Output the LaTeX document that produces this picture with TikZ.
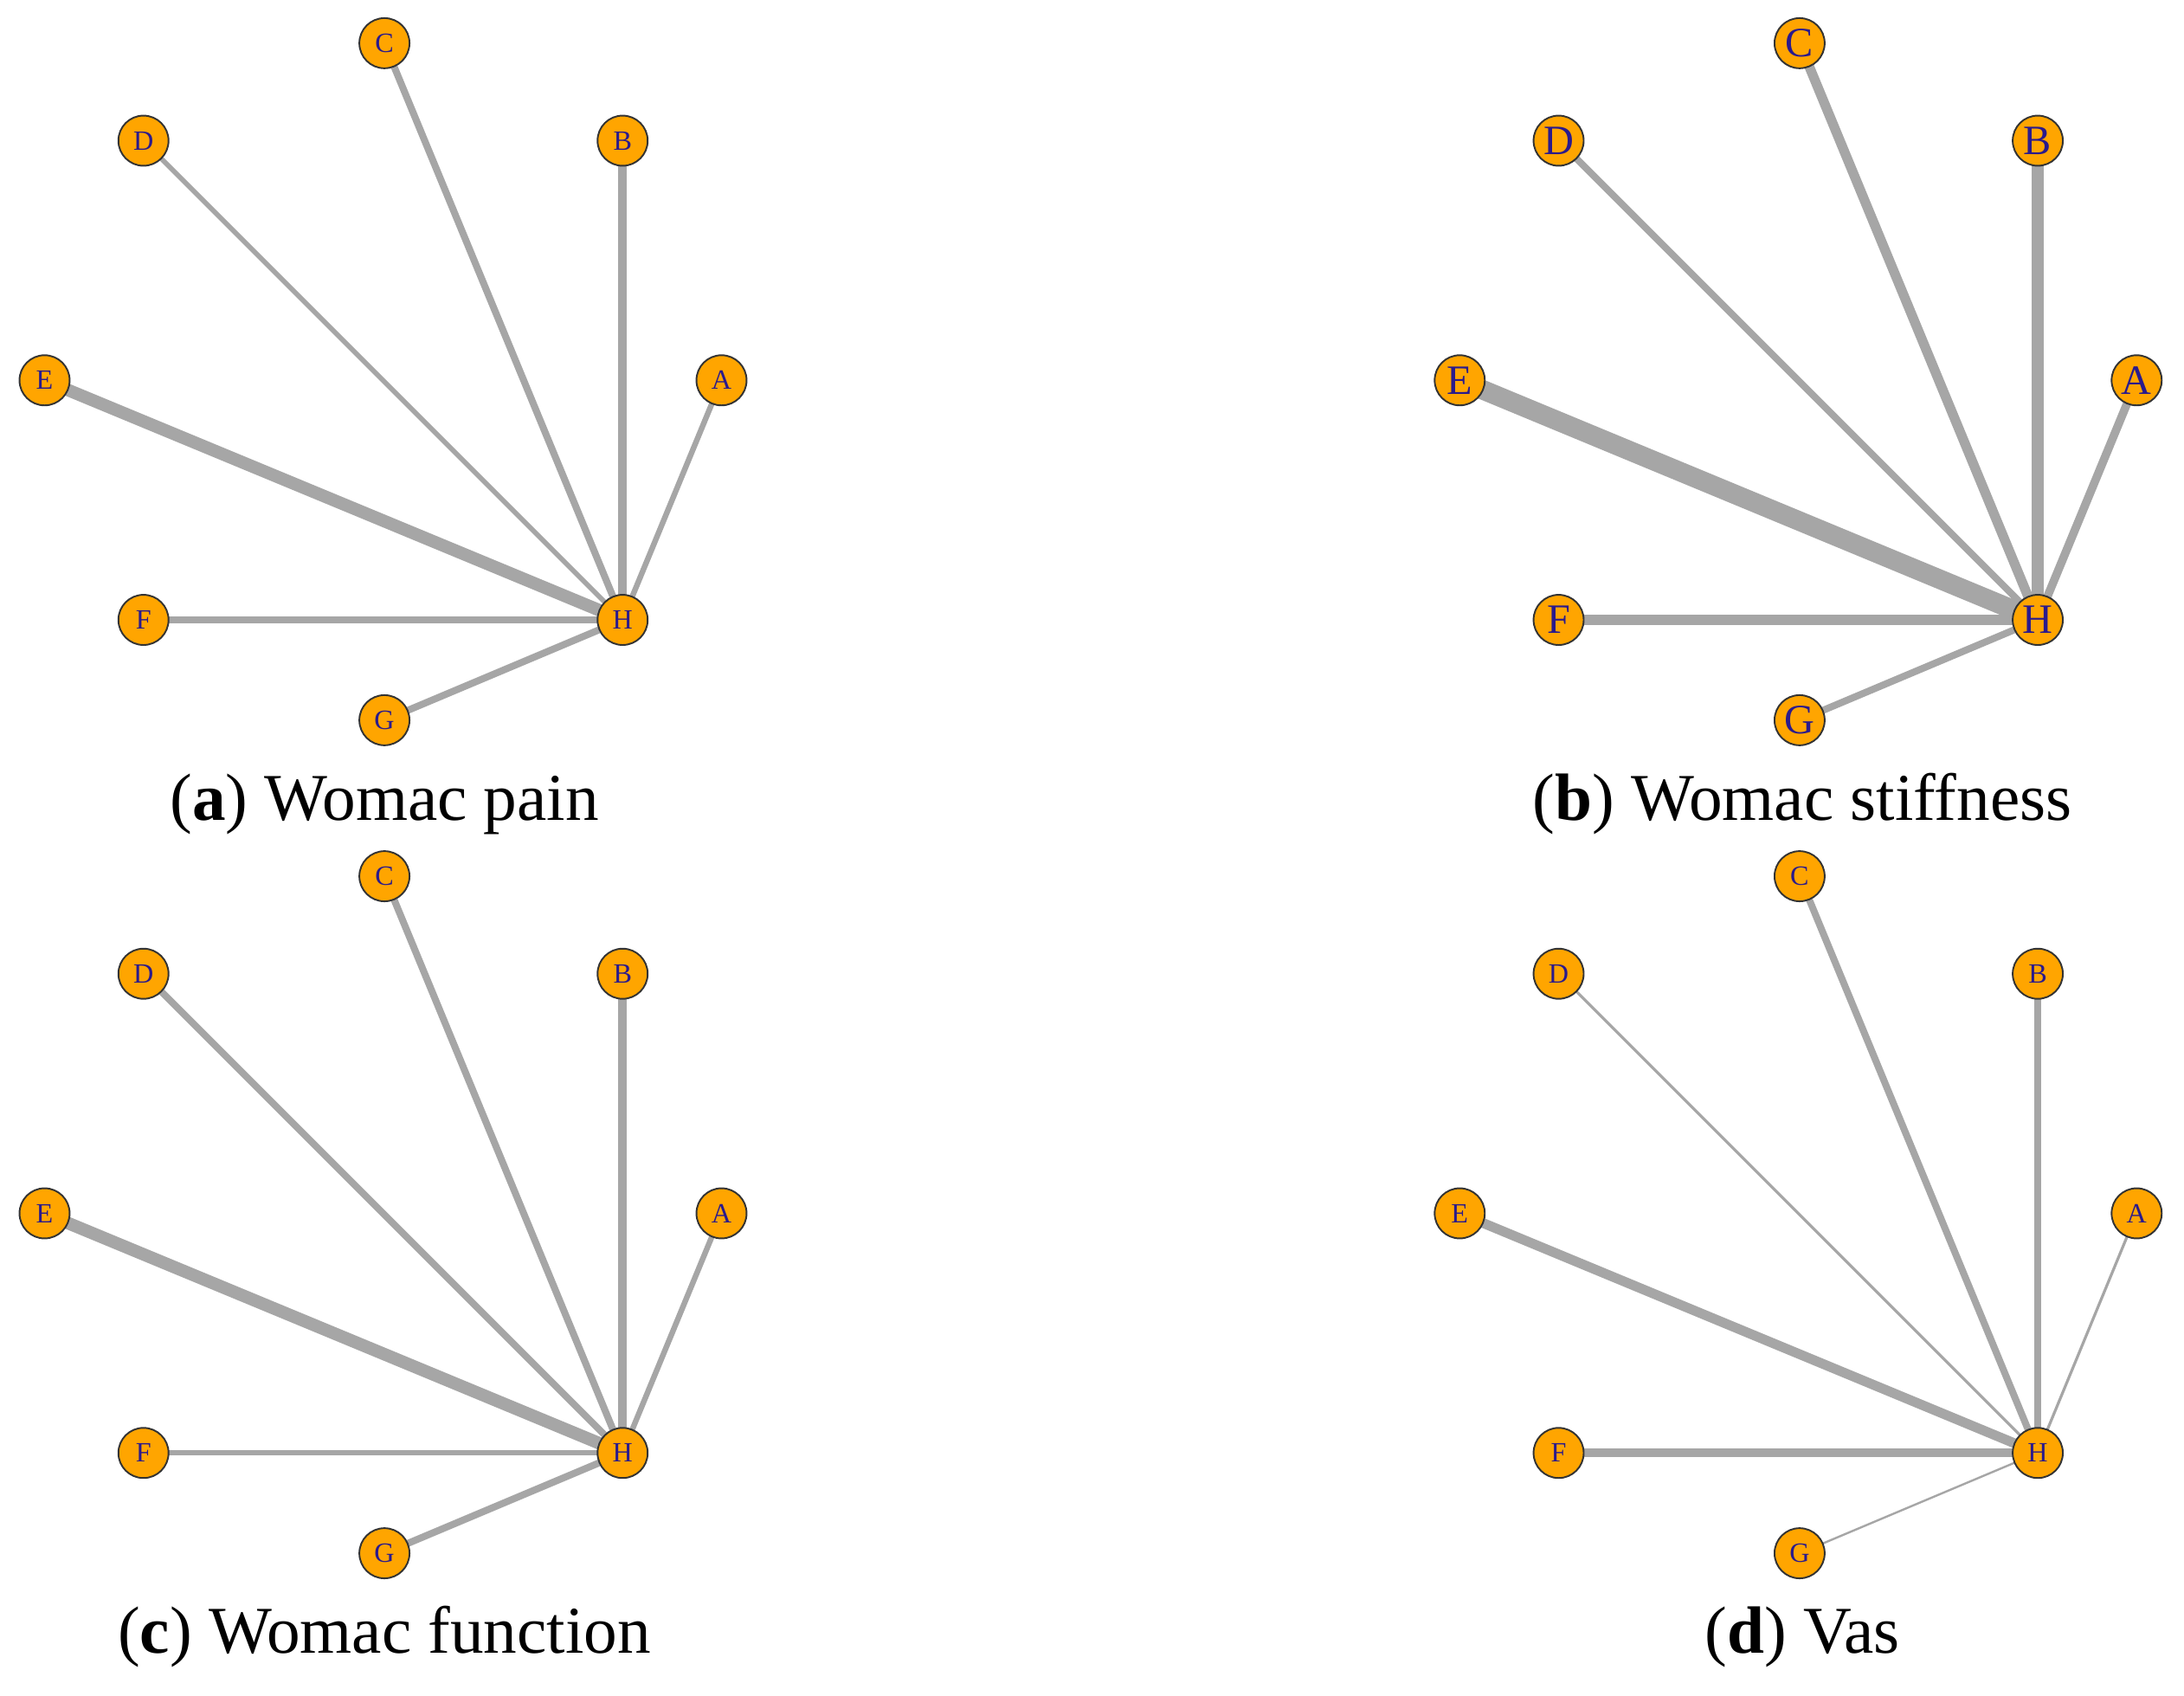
\documentclass[tikz,border=0pt]{standalone}
\usepackage{fontspec}
\setmainfont{Liberation Serif}
\usetikzlibrary{backgrounds}
\definecolor{edg}{HTML}{A6A6A6}
\definecolor{org}{HTML}{FFA500}
\definecolor{lab}{HTML}{2A1A8C}
\tikzset{
  v/.style={circle,draw=black!80,line width=1.2pt,fill=org,text=lab,minimum size=36pt,inner sep=0pt,font=\fontsize{20}{20}\selectfont},
  vb/.style={v,font=\fontsize{30}{30}\selectfont},
  e/.style={draw=edg,line cap=butt},
  captxt/.style={font=\fontsize{48}{56}\selectfont,anchor=center}
}
\newcommand{\mypanel}[9]{%
  \node[#4] (#1C) at (276+#2,31+#3) {C};
  \node[#4] (#1D) at (103+#2,101+#3) {D};
  \node[#4] (#1B) at (447+#2,101+#3) {B};
  \node[#4] (#1E) at (32+#2,273+#3) {E};
  \node[#4] (#1A) at (518+#2,273+#3) {A};
  \node[#4] (#1F) at (103+#2,445+#3) {F};
  \node[#4] (#1H) at (447+#2,445+#3) {H};
  \node[#4] (#1G) at (276+#2,517+#3) {G};
  \begin{scope}[on background layer]
  \draw[e,line width=#5pt] (#1A.center)--(#1H.center);
  \draw[e,line width=#6pt] (#1B.center)--(#1H.center);
  \draw[e,line width=#7pt] (#1C.center)--(#1H.center);
  \draw[e,line width=#8pt] (#1D.center)--(#1H.center);
  \draw[e,line width=#9pt] (#1E.center)--(#1H.center);
  \end{scope}}
\newcommand{\myrest}[3]{%
  \begin{scope}[on background layer]
  \draw[e,line width=#2pt] (#1F.center)--(#1H.center);
  \draw[e,line width=#3pt] (#1G.center)--(#1H.center);
  \end{scope}}
\begin{document}
\begin{tikzpicture}[x=1pt,y=-1pt]
\useasboundingbox (0,0) rectangle (1568,1217);
\mypanel{a}{0}{0}{v}{4}{6}{5}{3.5}{9}\myrest{a}{5}{5}
\mypanel{b}{1016}{0}{vb}{6}{9}{7}{5}{14}\myrest{b}{7}{5}
\mypanel{c}{0}{598}{v}{4}{6}{5}{5}{9}\myrest{c}{4}{5}
\mypanel{d}{1016}{598}{v}{2}{5}{5}{2}{7}\myrest{d}{6}{1.5}
\node[captxt] (ca) at (276,577) {(\textbf{a}) Womac pain};
\node[captxt] (cb) at (1294,577) {(\textbf{b}) Womac stiffness};
\node[captxt] (cc) at (276,1175) {(\textbf{c}) Womac function};
\node[captxt] (cd) at (1294,1175) {(\textbf{d}) Vas};
\end{tikzpicture}
\end{document}
